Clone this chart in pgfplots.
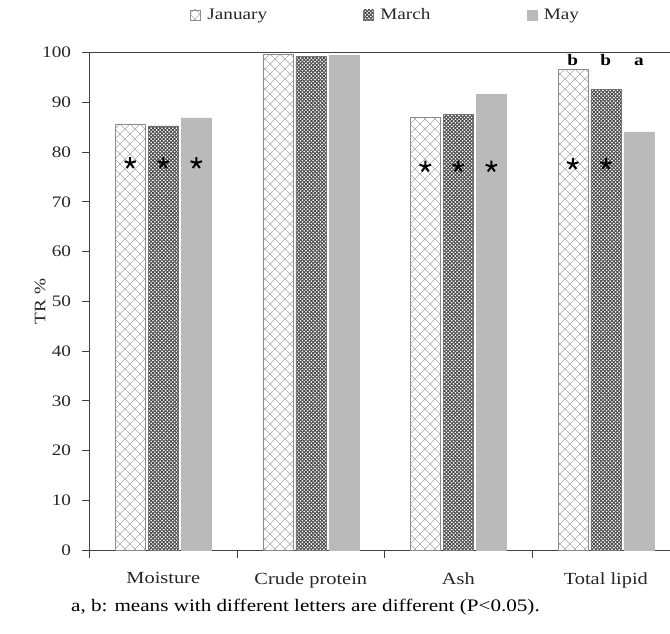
\documentclass[border=0pt]{standalone}
\usepackage{pgfplots}
\pgfplotsset{compat=1.18}
\usepackage{fontspec}
\setmainfont{Liberation Serif}[FakeStretch=1.2]
\usetikzlibrary{patterns,calc}
\newcommand\fs{\fontsize{16bp}{19bp}\selectfont}
\newcommand\fl{\fontsize{17bp}{20bp}\selectfont}
\newcommand\fc{\fontsize{17.6bp}{21bp}\selectfont}
\pgfdeclarepatternformonly{janpat}{\pgfqpoint{-1bp}{-1bp}}{\pgfqpoint{11bp}{11bp}}{\pgfqpoint{10bp}{10bp}}{%
  \pgfsetlinewidth{0.6bp}%
  \pgfpathmoveto{\pgfqpoint{0bp}{0bp}}\pgfpathlineto{\pgfqpoint{10bp}{10bp}}%
  \pgfpathmoveto{\pgfqpoint{0bp}{10bp}}\pgfpathlineto{\pgfqpoint{10bp}{0bp}}%
  \pgfusepath{stroke}}
\pgfdeclarepatternformonly{marpat}{\pgfqpoint{-1bp}{-1bp}}{\pgfqpoint{4.5bp}{4.5bp}}{\pgfqpoint{3.6bp}{3.6bp}}{%
  \pgfsetlinewidth{0.9bp}%
  \pgfpathmoveto{\pgfqpoint{0bp}{0bp}}\pgfpathlineto{\pgfqpoint{3.6bp}{3.6bp}}%
  \pgfpathmoveto{\pgfqpoint{0bp}{3.6bp}}\pgfpathlineto{\pgfqpoint{3.6bp}{0bp}}%
  \pgfusepath{stroke}}
\begin{document}
\begin{tikzpicture}
\begin{axis}[name=ax, scale only axis, width=580.5bp, height=497.3bp,
  xmin=-0.5, xmax=3.435, ymin=0, ymax=100,
  axis lines=left, axis line style={-, draw=black!75, line width=1bp},
  xtick={0,1,2,3}, xticklabels={Moisture, Crude protein, Ash, Total lipid},
  xtick style={draw=none},
  extra x ticks={-0.5,0.5,1.5,2.5}, extra x tick labels={},
  extra x tick style={xtick style={draw=black!75, line width=1bp}, major tick length=8bp},
  ytick={0,10,...,100},
  ytick style={draw=black!75, line width=1bp},
  tick align=outside, major tick length=7bp,
  /pgf/number format/assume math mode=true,
  tick label style={font=\fs, text=black!85},
  yticklabel style={xshift=-8bp},
  xticklabel style={font=\fl, yshift=-12bp},
  ylabel={TR \%}, ylabel style={font=\fs, text=black!85, at={(axis description cs:-0.085,0.5)}, anchor=center},
  xlabel={a, b: means with different letters are different (P<0.05).},
  xlabel style={font=\fc, at={(axis description cs:0.372,0)}, anchor=center, yshift=-57bp},
  legend style={at={(axis description cs:0.51,1)}, anchor=center, yshift=37.7bp, draw=none, fill=none,
    legend columns=3, font=\fs, text=black!85,
    /tikz/every odd column/.append style={column sep=5bp},
    /tikz/every even column/.append style={column sep=94bp}},
  legend image code/.code={\draw[#1] (0bp,-5bp) rectangle (10bp,5bp);},
]
\addplot[ybar, bar width=30bp, bar shift=-33bp, draw=black!45, pattern=janpat, pattern color=black!35]
  coordinates {(0,85.7) (1,99.7) (2,87.1) (3,96.7)};
\addlegendentry{January}
\addplot[ybar, bar width=30bp, bar shift=0bp, draw=black!55, line width=0.3bp, pattern=marpat, pattern color=black!72]
  coordinates {(0,85.3) (1,99.3) (2,87.6) (3,92.6)};
\addlegendentry{March}
\addplot[ybar, bar width=30bp, bar shift=33bp, draw=black!27, fill=black!27]
  coordinates {(0,86.9) (1,99.5) (2,91.6) (3,84.1)};
\addlegendentry{May}
\addplot[only marks, mark=star, mark size=6bp, mark options={line width=2bp, black}, forget plot]
  coordinates {(-0.224,77.8) (0,77.8) (0.224,77.8) (1.776,77.1) (2,77.1) (2.224,77.1) (2.776,77.6) (3,77.6)};
\addplot[draw=none, mark=none, forget plot, point meta=explicit symbolic,
  nodes near coords, every node near coord/.style={anchor=base, inner sep=0pt, font=\fs\bfseries}]
  coordinates {(2.776,97.5)[b] (3,97.5)[b] (3.224,97.5)[a]};
\end{axis}
\draw[black!75, line width=1bp] ($(ax.north west)+(-7bp,0)$) -- (ax.north east);
\pgfresetboundingbox
\path[use as bounding box] ($(ax.south west)+(-89.5bp,-84bp)$) rectangle ($(ax.north east)+(0bp,52.7bp)$);
\end{tikzpicture}
\end{document}
